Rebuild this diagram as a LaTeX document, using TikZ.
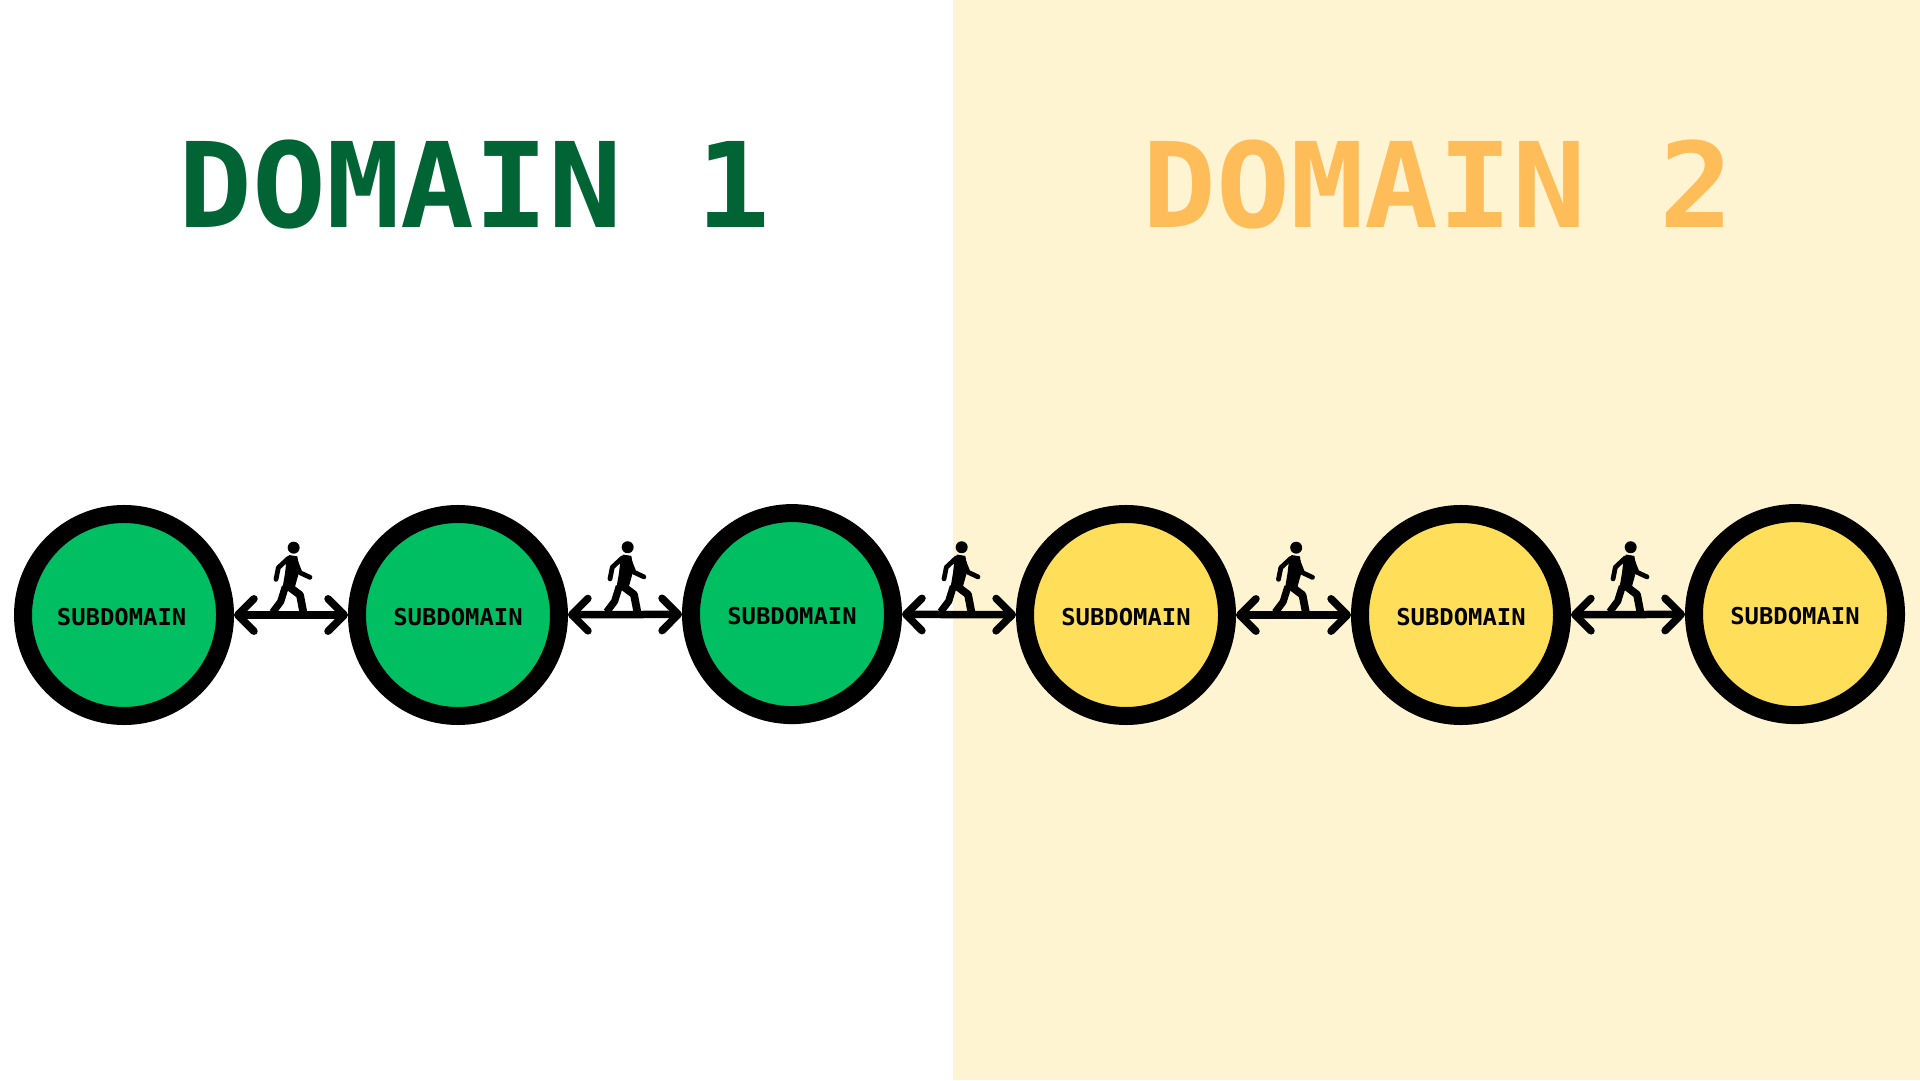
\documentclass[tikz,border=0pt]{standalone}
\usepackage{fontspec}
\usetikzlibrary{arrows.meta}
\usetikzlibrary{calc}
\newfontfamily\titlefont[FakeStretch=1.04]{DejaVu Sans Mono}
\newfontfamily\subfont[FakeStretch=1.03]{DejaVu Sans Mono}
\definecolor{domainbg}{HTML}{FFF4D2}
\definecolor{darkgreen}{HTML}{006435}
\definecolor{orangey}{HTML}{FFBD59}
\definecolor{subgreen}{HTML}{00BF63}
\definecolor{subyellow}{HTML}{FFDE59}
\tikzset{
  subdomain/.style={circle,draw=black,line width=0.3cm,minimum size=3.367cm,inner sep=0pt,text height=0.38cm,text depth=0.037cm,font=\subfont\bfseries\fontsize{11}{13}\selectfont},
  twoway/.style={line width=0.125cm,{Straight Barb[length=0.27cm,width=0.54cm,round]}-{Straight Barb[length=0.27cm,width=0.54cm,round]}},
  domaintitle/.style={font=\titlefont\bfseries\fontsize{56}{60}\selectfont},
  walkerline/.style={line cap=round,line join=round},
  walker/.pic={
    \begin{scope}[x=0.00556cm,y=0.00556cm]
      \fill (8,202) circle (18);
      \fill[walkerline] (-6,180)--(19,176)--(26,135)--(12,85)--(-26,78)--(-18,125)--(-14,160)--cycle;
      \draw[walkerline,line width=0.08cm] (-8,170)--(-38,142)--(-45,107);
      \draw[walkerline,line width=0.08cm] (12,165)--(27,127)--(57,113);
      \draw[line join=round,line width=0.12cm] (-17,85)--(-31,40)--(-55,8);
      \draw[line join=round,line width=0.13cm] (-6,85)--(27,60)--(37,8);
    \end{scope}
  }
}
\begin{document}
\begin{tikzpicture}
  \useasboundingbox (0,0) rectangle (32,18);
  \fill[white] (0,0) rectangle (32,18);
  \fill[domainbg] (15.88,0) rectangle (32,18);

  \node[domaintitle,text=darkgreen] (title1) at (7.91,14.93) {DOMAIN 1};
  \node[domaintitle,text=orangey] (title2) at (23.97,14.93) {DOMAIN 2};

  \node[subdomain,fill=subgreen] (sub1) at (2.067,7.75) {\hspace*{-0.08cm}SUBDOMAIN};
  \node[subdomain,fill=subgreen] (sub2) at (7.633,7.75) {SUBDOMAIN};
  \node[subdomain,fill=subgreen] (sub3) at (13.2,7.765) {SUBDOMAIN};
  \node[subdomain,fill=subyellow] (sub4) at (18.767,7.75) {SUBDOMAIN};
  \node[subdomain,fill=subyellow] (sub5) at (24.35,7.75) {SUBDOMAIN};
  \node[subdomain,fill=subyellow] (sub6) at (29.917,7.765) {SUBDOMAIN};

  \draw[twoway] (sub1)--(sub2);
  \draw[twoway] (sub2)--(sub3);
  \draw[twoway] (sub3)--(sub4);
  \draw[twoway] (sub4)--(sub5);
  \draw[twoway] (sub5)--(sub6);

  \pic at ($(sub1)!.5!(sub2)$) {walker};
  \pic at ($(sub2)!.5!(sub3)$) {walker};
  \pic at ($(sub3)!.5!(sub4)$) {walker};
  \pic at ($(sub4)!.5!(sub5)$) {walker};
  \pic at ($(sub5)!.5!(sub6)$) {walker};
\end{tikzpicture}
\end{document}
